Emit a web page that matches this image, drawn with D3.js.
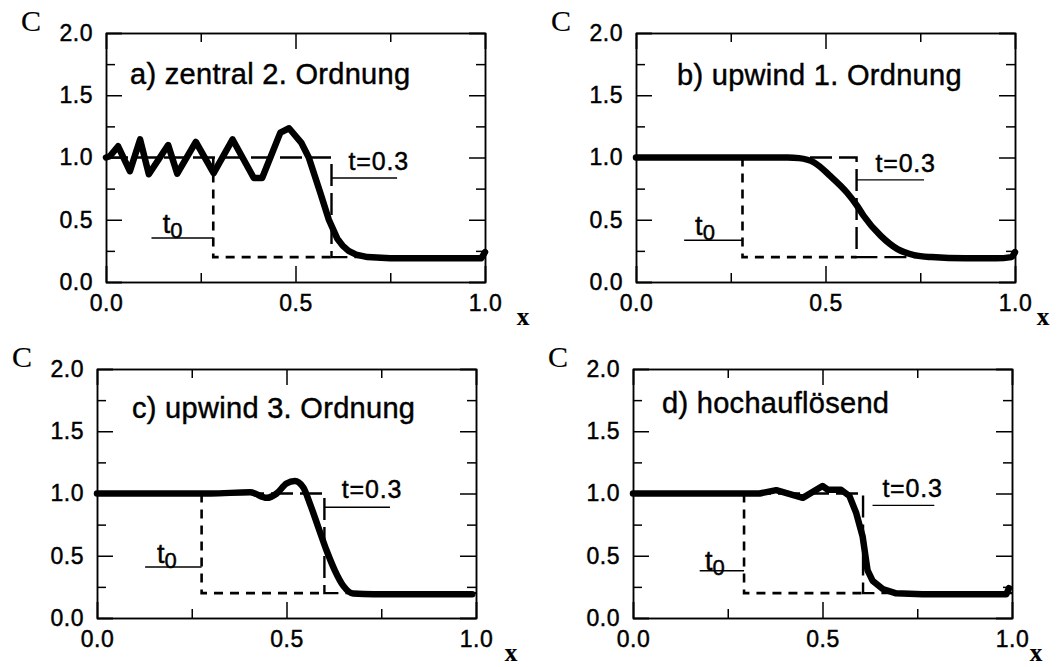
<!DOCTYPE html>
<html>
<head>
<meta charset="utf-8">
<script src="https://cdn.jsdelivr.net/npm/d3@7"></script>
<style>
  body { margin: 0; background: #fff; }
  svg text { font-family: "Liberation Sans", Arial, Helvetica, sans-serif; fill: #000; stroke: #000; stroke-width: 0.45px; }
  svg text.serif { font-family: "Liberation Serif", "Times New Roman", serif; stroke-width: 0.2px; }
</style>
</head>
<body>
<svg id="chart" width="1060" height="667"></svg>
<script>
// ---- data ----
const panelTitles = ['a) zentral 2. Ordnung', 'b) upwind 1. Ordnung', 'c) upwind 3. Ordnung', 'd) hochauflösend'];

const xMajorTicks = [0, 0.5, 1];
const xMinorTicks = [0.25, 0.75];
const xTickLabels = ['0.0', '0.5', '1.0'];
const yMajorTicks = [0, 0.5, 1, 1.5, 2];
const yMinorTicks = [0.25, 0.75, 1.25, 1.75];
const yTickLabels = ['0.0', '0.5', '1.0', '1.5', '2.0'];

// step of the exact solution: initial position (t0) and after t=0.3
const stepStart = [0.283, 0.281, 0.276, 0.293];
const stepEnd = [0.595, 0.582, 0.600, 0.607];
const cHigh = 1.0;
const cLow = 0.2;

// a) zentral 2. Ordnung
const xA = [0, 0.01, 0.032, 0.063, 0.09, 0.113, 0.164, 0.188, 0.237, 0.284, 0.334, 0.39, 0.412, 0.46, 0.483,
            0.515, 0.535, 0.565, 0.588, 0.61, 0.625, 0.64, 0.66, 0.69, 0.75, 0.85, 0.95, 0.99, 1.0];
const cA = [1.0, 1.01, 1.09, 0.89, 1.145, 0.865, 1.1, 0.87, 1.125, 0.875, 1.145, 0.835, 0.835, 1.2, 1.235,
            1.12, 1.0, 0.72, 0.5, 0.35, 0.29, 0.25, 0.22, 0.2, 0.19, 0.19, 0.19, 0.19, 0.24];

// b) upwind 1. Ordnung
const xB = [0, 0.1, 0.2, 0.3, 0.4, 0.43, 0.47, 0.513, 0.557, 0.584, 0.601, 0.646, 0.69, 0.734, 0.78, 0.87, 0.95, 0.99, 1.0];
const cB = [1.0, 1.0, 1.0, 1.0, 1.0, 0.995, 0.96, 0.85, 0.717, 0.61, 0.53, 0.37, 0.264, 0.216, 0.2, 0.19, 0.19, 0.2, 0.24];

// c) upwind 3. Ordnung
const xC = [0, 0.1, 0.2, 0.3, 0.404, 0.448, 0.474, 0.5, 0.522, 0.544, 0.562, 0.584, 0.606, 0.628, 0.65, 0.676,
            0.73, 0.8, 0.9, 0.99];
const cC = [1.0, 1.0, 1.0, 1.0, 1.01, 0.965, 1.0, 1.08, 1.1, 1.05, 0.917, 0.728, 0.54, 0.379, 0.258, 0.196,
            0.19, 0.19, 0.19, 0.19];

// d) hochaufloesend
const xD = [0, 0.1, 0.2, 0.282, 0.334, 0.378, 0.448, 0.5, 0.514, 0.549, 0.571, 0.589, 0.606, 0.615, 0.619,
            0.632, 0.659, 0.694, 0.764, 0.85, 0.95, 0.985, 0.992];
const cD = [1.0, 1.0, 1.0, 1.0, 1.0, 1.027, 0.965, 1.06, 1.03, 1.03, 0.98, 0.843, 0.653, 0.463, 0.382,
            0.3, 0.233, 0.198, 0.19, 0.19, 0.19, 0.19, 0.24];

const curveX = [xA, xB, xC, xD];
const curveC = [cA, cB, cC, cD];

// ---- layout ----
const W = 379, H = 249;
const origins = [[106, 33], [636, 33], [97, 369], [633, 369]];
const titleOffsets = [[24, 51], [41, 52], [35, 49], [29, 44]];
const xNameOffsets = [[38, 35], [28, 35], [35, 35], [24, 35]];
const shapes = [d3.curveLinear, d3.curveMonotoneX, d3.curveMonotoneX, d3.curveLinear];

// annotation placement, in data units of each panel
const t0Leader = [{x: 0.12, y: 0.353}, {x: 0.127, y: 0.335}, {x: 0.127, y: 0.41}, {x: 0.176, y: 0.38}];
const t0Label = [{x: 0.15, y: 0.394}, {x: 0.156, y: 0.378}, {x: 0.158, y: 0.44}, {x: 0.19, y: 0.385}];
const tLeader = [{x0: 0.595, x1: 0.768, y: 0.835}, {x0: 0.582, x1: 0.76, y: 0.82},
                 {x0: 0.600, x1: 0.773, y: 0.89}, {x0: 0.632, x1: 0.795, y: 0.905}];
const tLabel = [{x: 0.64, y: 0.9}, {x: 0.632, y: 0.886}, {x: 0.646, y: 0.96}, {x: 0.658, y: 0.97}];

const svg = d3.select('#chart');

panelTitles.forEach((title, i) => {
  const [left, top] = origins[i];
  const g = svg.append('g').attr('transform', `translate(${left},${top})`);

  const x = d3.scaleLinear().domain([0, 1]).range([0, W]);
  const y = d3.scaleLinear().domain([0, 2]).range([H, 0]);
  const line = d3.line().x(d => x(d[0])).y(d => y(d[1]));

  // exact solution at t0 (short dashes)
  const s0 = stepStart[i], s1 = stepEnd[i];
  g.append('path')
    .attr('d', line([[s0, cHigh], [s0, cLow], [s1, cLow]]))
    .attr('fill', 'none').attr('stroke', '#000')
    .attr('stroke-width', 2.6).attr('stroke-dasharray', '9,7');

  // exact solution at t=0.3 (long dashes)
  g.append('path')
    .attr('d', line([[0, cHigh], [s1, cHigh], [s1, cLow], [1, cLow]]))
    .attr('fill', 'none').attr('stroke', '#000')
    .attr('stroke-width', 2.4).attr('stroke-dasharray', '22,7');

  // numerical solution
  const pts = curveX[i].map((v, k) => [v, curveC[i][k]]);
  g.append('path')
    .attr('d', line.curve(shapes[i])(pts))
    .attr('fill', 'none').attr('stroke', '#000')
    .attr('stroke-width', 6.5)
    .attr('stroke-linejoin', 'round').attr('stroke-linecap', 'round');

  // leaders
  g.append('line')
    .attr('x1', x(t0Leader[i].x)).attr('x2', x(s0))
    .attr('y1', y(t0Leader[i].y)).attr('y2', y(t0Leader[i].y))
    .attr('stroke', '#000').attr('stroke-width', 1.4);
  g.append('line')
    .attr('x1', x(tLeader[i].x0)).attr('x2', x(tLeader[i].x1))
    .attr('y1', y(tLeader[i].y)).attr('y2', y(tLeader[i].y))
    .attr('stroke', '#000').attr('stroke-width', 1.4);

  // labels
  const t0 = g.append('text')
    .attr('x', x(t0Label[i].x)).attr('y', y(t0Label[i].y))
    .style('font-size', '27px');
  t0.append('tspan').text('t');
  t0.append('tspan').attr('dy', 5).style('font-size', '22px').text('0');

  g.append('text')
    .attr('x', x(tLabel[i].x)).attr('y', y(tLabel[i].y))
    .style('font-size', '25px').style('letter-spacing', '0.8px')
    .text('t=0.3');

  g.append('text')
    .attr('x', titleOffsets[i][0]).attr('y', titleOffsets[i][1])
    .style('font-size', '29px').style('letter-spacing', '0.3px')
    .text(title);

  // axes: frame with inward ticks
  const ga = g.append('g')
    .call(d3.axisLeft(y).tickValues(yMajorTicks).tickSize(-16).tickPadding(13)
      .tickFormat((d, k) => yTickLabels[k]));
  const gb = g.append('g').attr('transform', `translate(0,${H})`)
    .call(d3.axisBottom(x).tickValues(xMajorTicks).tickSize(-16).tickPadding(13)
      .tickFormat((d, k) => xTickLabels[k]));
  g.append('g').attr('transform', `translate(${W},0)`)
    .call(d3.axisRight(y).tickValues(yMajorTicks).tickSize(-16).tickFormat(''));
  g.append('g')
    .call(d3.axisTop(x).tickValues(xMajorTicks).tickSize(-16).tickFormat(''));

  g.append('g').call(d3.axisLeft(y).tickValues(yMinorTicks).tickSize(-9).tickSizeOuter(0).tickFormat(''));
  g.append('g').attr('transform', `translate(${W},0)`)
    .call(d3.axisRight(y).tickValues(yMinorTicks).tickSize(-9).tickSizeOuter(0).tickFormat(''));
  g.append('g').attr('transform', `translate(0,${H})`)
    .call(d3.axisBottom(x).tickValues(xMinorTicks).tickSize(-9).tickSizeOuter(0).tickFormat(''));
  g.append('g')
    .call(d3.axisTop(x).tickValues(xMinorTicks).tickSize(-9).tickSizeOuter(0).tickFormat(''));

  g.selectAll('.domain, .tick line').attr('stroke', '#000').attr('stroke-width', 1.5);
  g.selectAll('g').attr('font-family', null).attr('font-size', null);
  [ga, gb].forEach(a => a.selectAll('text')
    .style('font-size', '23px').style('letter-spacing', '0.5px')
    .attr('fill', '#000'));

  // axis names
  g.append('text').attr('class', 'serif')
    .attr('x', -75).attr('y', -13).attr('dy', '0.35em')
    .attr('text-anchor', 'middle').style('font-size', '30px')
    .text('C');
  g.append('text').attr('class', 'serif')
    .attr('x', W + xNameOffsets[i][0]).attr('y', H + xNameOffsets[i][1]).attr('dy', '0.3em')
    .attr('text-anchor', 'middle').style('font-size', '25px').style('font-weight', 'bold')
    .text('x');
});
</script>
</body>
</html>
